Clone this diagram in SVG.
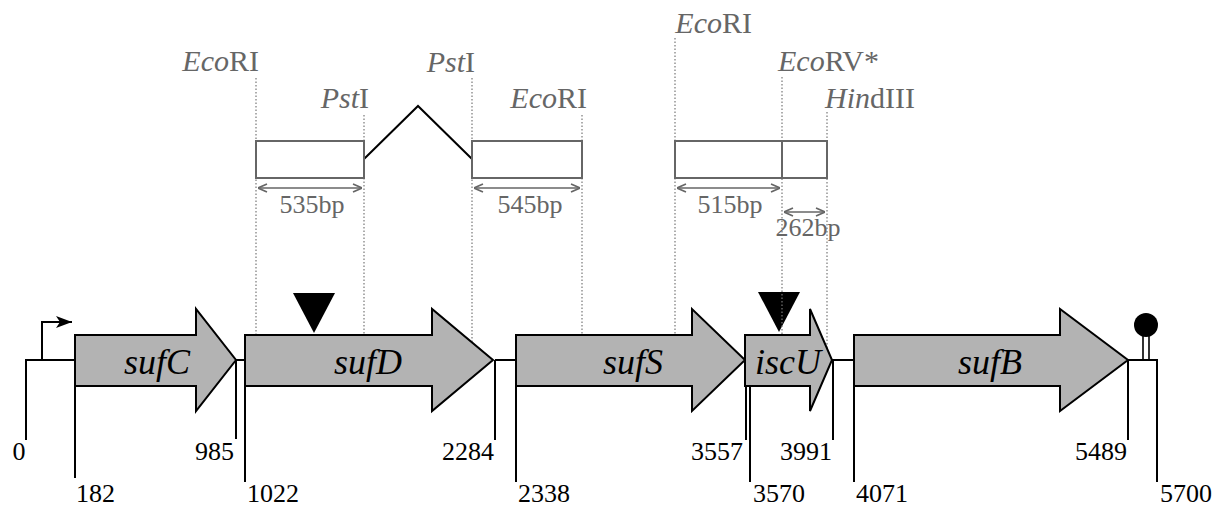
<svg xmlns="http://www.w3.org/2000/svg" width="1217" height="511" viewBox="0 0 1217 511">
<style>
.gene{fill:#b3b3b3;stroke:#000;stroke-width:2;stroke-linejoin:miter}
.gname{font-family:"Liberation Serif",serif;font-style:italic;font-size:36px;fill:#000;text-anchor:middle}
.num{font-family:"Liberation Serif",serif;font-size:26px;fill:#000}
.ln{stroke:#000;stroke-width:2;fill:none}
.dot{stroke:#777;stroke-width:1.2;stroke-dasharray:1.5 2;fill:none}
.frag{fill:#fff;stroke:#666;stroke-width:2}
.site{font-family:"Liberation Serif",serif;font-size:30px;fill:#666}
.bp{font-family:"Liberation Serif",serif;font-size:26px;fill:#666;text-anchor:middle}
.dim{stroke:#666;stroke-width:1.6;fill:none;marker-start:url(#ah);marker-end:url(#ah)}
</style>
<defs>
<marker id="ah" viewBox="0 0 10 10" refX="10" refY="5" markerWidth="10" markerHeight="10" markerUnits="userSpaceOnUse" orient="auto-start-reverse">
<path d="M1,1 L10,5 L1,9" fill="none" stroke="#666" stroke-width="1.6"/>
</marker>
<marker id="pa" viewBox="0 0 16 12" refX="16" refY="6" markerWidth="16" markerHeight="12" markerUnits="userSpaceOnUse" orient="auto">
<path d="M0,0 L16,6 L0,12 L4,6 Z" fill="#000"/>
</marker>
</defs>
<rect width="1217" height="511" fill="#fff"/>

<g id="connectors">
<path class="ln" d="M26,440 V360 H75"/>
<path class="ln" d="M236,360 H245"/>
<path class="ln" d="M495,360 H516"/>
<path class="ln" d="M832,360 H854"/>
<path class="ln" d="M1128,360 H1157 V482"/>
<path class="ln" d="M42,360 V322 H72" marker-end="url(#pa)"/>
<path class="ln" d="M75,386 V478 M236,360 V439 M245,386 V482 M495,360 V440 M516,386 V482 M746,360 V440 M750,386 V482 M833,360 V440 M854,386 V482 M1128,360 V440"/>
<path class="ln" d="M364,159 L418,106 L472,159"/>
<path class="dim" d="M258,188 H362"/>
<path class="dim" d="M474,188 H580"/>
<path class="dim" d="M677,188 H780"/>
<path class="dim" d="M784,212 H825"/>
</g>

<g id="insertions">
<path d="M293,293 H335 L314,333 Z" fill="#000"/>
<path d="M758,292 H800 L779,332 Z" fill="#000"/>
</g>

<g id="sites">
<path class="dot" d="M256,78 V360 M364,115 V360 M472,78 V360 M582,115 V360 M675,38 V360 M782,77 V360 M827,112 V360"/>
<text class="site" x="259" y="71" text-anchor="end"><tspan font-style="italic">Eco</tspan>RI</text>
<text class="site" x="369" y="108" text-anchor="end"><tspan font-style="italic">Pst</tspan>I</text>
<text class="site" x="475" y="72" text-anchor="end"><tspan font-style="italic">Pst</tspan>I</text>
<text class="site" x="587" y="108" text-anchor="end"><tspan font-style="italic">Eco</tspan>RI</text>
<text class="site" x="752" y="33" text-anchor="end"><tspan font-style="italic">Eco</tspan>RI</text>
<text class="site" x="778" y="71"><tspan font-style="italic">Eco</tspan>RV*</text>
<text class="site" x="825" y="108"><tspan font-style="italic">Hin</tspan>dIII</text>
</g>

<g id="fragments">
<rect class="frag" x="256" y="141" width="108" height="37"/>
<rect class="frag" x="472" y="141" width="110" height="37"/>
<rect class="frag" x="675" y="141" width="107" height="37"/>
<rect class="frag" x="782" y="141" width="45" height="37"/>
<text class="bp" x="312" y="213">535bp</text>
<text class="bp" x="530" y="213">545bp</text>
<text class="bp" x="730" y="213">515bp</text>
<text class="bp" x="808" y="236">262bp</text>
</g>

<g id="sufC">
<path class="gene" d="M75,335 H196 V309 L236,360 L196,411 V386 H75 Z"/>
<text class="gname" x="157" y="374">sufC</text>
</g>
<g id="sufD">
<path class="gene" d="M245,335 H432 V309 L493,360 L432,411 V386 H245 Z"/>
<text class="gname" x="368" y="374">sufD</text>
</g>
<g id="sufS">
<path class="gene" d="M516,335 H692 V309 L745,360 L692,411 V386 H516 Z"/>
<text class="gname" x="633" y="374">sufS</text>
</g>
<g id="iscU">
<path class="gene" d="M745,335 H810 V309 L832,360 L810,411 V386 H745 Z"/>
<text class="gname" x="788" y="374">iscU</text>
</g>
<g id="sufB">
<path class="gene" d="M854,335 H1060 V309 L1128,360 L1060,411 V386 H854 Z"/>
<text class="gname" x="990" y="374">sufB</text>
</g>

<g id="terminator">
<path d="M1143,360 V335 M1149,360 V335" stroke="#000" stroke-width="1.6" fill="none"/>
<circle cx="1146" cy="325" r="12" fill="#000"/>
</g>

<g id="positions">
<text class="num" x="19" y="460" text-anchor="middle">0</text>
<text class="num" x="76" y="502">182</text>
<text class="num" x="234" y="460" text-anchor="end">985</text>
<text class="num" x="247" y="502">1022</text>
<text class="num" x="494" y="460" text-anchor="end">2284</text>
<text class="num" x="518" y="502">2338</text>
<text class="num" x="743" y="460" text-anchor="end">3557</text>
<text class="num" x="753" y="502">3570</text>
<text class="num" x="832" y="460" text-anchor="end">3991</text>
<text class="num" x="856" y="502">4071</text>
<text class="num" x="1127" y="460" text-anchor="end">5489</text>
<text class="num" x="1160" y="502">5700</text>
</g>
</svg>
